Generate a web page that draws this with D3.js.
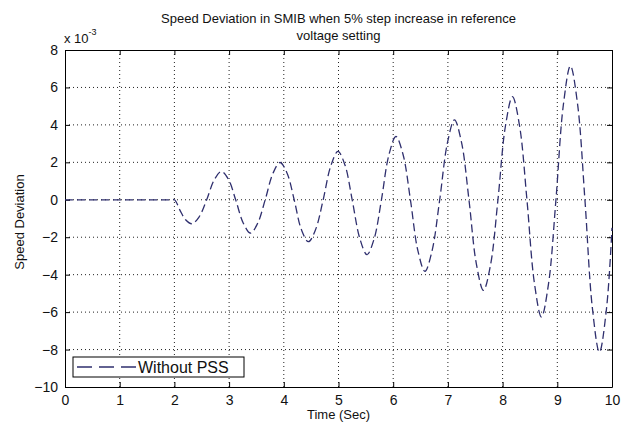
<!DOCTYPE html>
<html>
<head>
<meta charset="utf-8">
<script src="https://cdn.jsdelivr.net/npm/d3@7"></script>
<style>
  body { margin: 0; background: #fff; }
  text { font-family: "Liberation Sans", Arial, sans-serif; fill: #111; }
</style>
</head>
<body>
<div id="chart"></div>
<script>
// time (s) and speed deviation (x 1e-3)
const timeSec = [0, 0.5, 1.0, 1.5, 1.9, 2.0, 2.1, 2.2, 2.32, 2.45, 2.59, 2.73, 2.86, 2.99, 3.12, 3.26, 3.39, 3.52, 3.66,
  3.80, 3.93, 4.06, 4.19, 4.32, 4.45, 4.58, 4.72, 4.86, 4.99, 5.12, 5.25, 5.39, 5.52, 5.65, 5.785,
  5.92, 6.05, 6.18, 6.315, 6.45, 6.58, 6.71, 6.85, 6.99, 7.12, 7.25, 7.385, 7.52, 7.65, 7.78, 7.915,
  8.05, 8.18, 8.31, 8.445, 8.58, 8.71, 8.84, 8.975, 9.11, 9.24, 9.37, 9.505, 9.64, 9.77, 9.90, 10.0]
const speedDev = [0, 0, 0, 0, 0, 0, -0.55, -1.05, -1.28, -0.92, 0, 1.07, 1.51, 1.08, 0, -1.25, -1.78, -1.27, 0,
  1.40, 1.99, 1.42, 0, -1.58, -2.24, -1.60, 0, 1.82, 2.58, 1.84, 0, -2.07, -2.93, -2.10, 0,
  2.38, 3.38, 2.42, 0, -2.70, -3.82, -2.73, 0, 3.02, 4.27, 3.05, 0, -3.42, -4.84, -3.47, 0,
  3.90, 5.51, 3.95, 0, -4.42, -6.26, -4.48, 0, 5.05, 7.15, 5.12, 0, -5.75, -8.14, -5.80, -1.5]

const xTicks = [0, 1, 2, 3, 4, 5, 6, 7, 8, 9, 10]
const yTicks = [-10, -8, -6, -4, -2, 0, 2, 4, 6, 8]
const titleLines = ["Speed Deviation in SMIB when 5% step increase in reference", "voltage setting"]
const legendLabel = "Without PSS"

const width = 629, height = 423
const margin = {top: 50, right: 17, bottom: 36, left: 65}
const LINE = "#2f2f6e"

const svg = d3.select("#chart").append("svg")
  .attr("width", width).attr("height", height)

const x = d3.scaleLinear().domain([0, 10]).range([margin.left, width - margin.right])
const y = d3.scaleLinear().domain([-10, 8]).range([height - margin.bottom, margin.top])

// grid (dotted, matlab style)
const grid = svg.append("g")
grid.selectAll(".gx").data(xTicks.slice(1, -1)).join("line")
  .attr("x1", d => x(d)).attr("x2", d => x(d))
  .attr("y1", y(8)).attr("y2", y(-10))
  .attr("stroke", "#222").attr("stroke-dasharray", "1,3")
grid.selectAll(".gy").data(yTicks.slice(1, -1)).join("line")
  .attr("x1", x(0)).attr("x2", x(10))
  .attr("y1", d => y(d)).attr("y2", d => y(d))
  .attr("stroke", "#222").attr("stroke-dasharray", "1,3")

// axes with inward ticks on all four sides
const tk = 5
svg.append("g").attr("transform", `translate(0,${y(-10)})`)
  .call(d3.axisBottom(x).tickValues(xTicks).tickSizeInner(-tk).tickSizeOuter(0).tickPadding(8))
svg.append("g").attr("transform", `translate(0,${y(8)})`)
  .call(d3.axisTop(x).tickValues(xTicks).tickSizeInner(-tk).tickSizeOuter(0).tickFormat(""))
svg.append("g").attr("transform", `translate(${x(0)},0)`)
  .call(d3.axisLeft(y).tickValues(yTicks).tickSizeInner(-tk).tickSizeOuter(0).tickPadding(7))
svg.append("g").attr("transform", `translate(${x(10)},0)`)
  .call(d3.axisRight(y).tickValues(yTicks).tickSizeInner(-tk).tickSizeOuter(0).tickFormat(""))

svg.selectAll(".domain").attr("stroke", "#000")
svg.selectAll(".tick line").attr("stroke", "#000")
svg.selectAll(".tick text").attr("font-size", 14).attr("font-family", "Liberation Sans, Arial, sans-serif").attr("fill", "#222")

// the curve
const pts = timeSec.map((t, i) => [t, speedDev[i]])
const line = d3.line().x(d => x(d[0])).y(d => y(d[1])).curve(d3.curveCatmullRom)
svg.append("path").datum(pts)
  .attr("d", line)
  .attr("fill", "none")
  .attr("stroke", LINE)
  .attr("stroke-width", 1.3)
  .attr("stroke-dasharray", "8,4")

// title
svg.append("g").selectAll("text").data(titleLines).join("text")
  .attr("x", (x(0) + x(10)) / 2)
  .attr("y", (d, i) => 23 + i * 17)
  .attr("text-anchor", "middle")
  .attr("font-size", 13)
  .text(d => d)

// exponent label
const ex = svg.append("text").attr("x", 64).attr("y", 43).attr("font-size", 13)
ex.append("tspan").text("x 10")
ex.append("tspan").attr("dy", -8).attr("font-size", 9).text("-3")

// axis labels
svg.append("text").attr("x", (x(0) + x(10)) / 2).attr("y", 419)
  .attr("text-anchor", "middle").attr("font-size", 13).text("Time (Sec)")
svg.append("text").attr("transform", "translate(24,222) rotate(-90)")
  .attr("text-anchor", "middle").attr("font-size", 13).text("Speed Deviation")

// legend
const lg = svg.append("g")
lg.append("rect").attr("x", 73).attr("y", 357).attr("width", 171).attr("height", 20)
  .attr("fill", "#fff").attr("stroke", "#000")
lg.append("line").attr("x1", 77).attr("x2", 136).attr("y1", 367).attr("y2", 367)
  .attr("stroke", LINE).attr("stroke-width", 1.3).attr("stroke-dasharray", "15,7")
lg.append("text").attr("x", 138).attr("y", 373).attr("font-size", 16).text(legendLabel)
</script>
</body>
</html>
